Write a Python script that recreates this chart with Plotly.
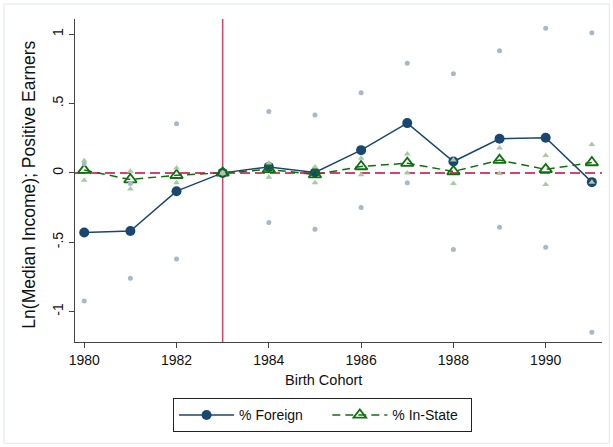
import plotly.graph_objects as go

years = [1980, 1981, 1982, 1983, 1984, 1985, 1986, 1987, 1988, 1989, 1990, 1991]
foreign = [-0.430, -0.419, -0.132, 0.0, 0.043, 0.003, 0.164, 0.359, 0.082, 0.246, 0.253, -0.067]
foreign_hi = [0.065, -0.077, 0.354, 0.0, 0.443, 0.417, 0.578, 0.790, 0.715, 0.881, 1.043, 1.011]
foreign_lo = [-0.924, -0.760, -0.621, 0.0, -0.358, -0.406, -0.250, -0.072, -0.553, -0.392, -0.536, -1.150]
instate = [0.020, -0.048, -0.017, 0.0, 0.025, -0.012, 0.046, 0.070, 0.010, 0.092, 0.025, 0.075]
instate_hi = [0.087, 0.012, 0.036, 0.0, 0.072, 0.043, 0.106, 0.137, 0.092, 0.180, 0.126, 0.205]
instate_lo = [-0.053, -0.116, -0.072, 0.0, -0.031, -0.072, -0.014, 0.0, -0.077, -0.005, -0.084, -0.067]

xticks = [1980, 1982, 1984, 1986, 1988, 1990]
yticks = [-1, -0.5, 0, 0.5, 1]
yticklabels = ["-1", "-.5", "0", ".5", "1"]
ref_year = 1983

NAVY = "#1a476f"
GREY = "#a9b7cb"
DKGREEN = "#0f700f"
LTGREEN = "#a9c9a4"
RED = "#d4436b"
AX = "#444444"
FONT = "Liberation Sans, Arial, sans-serif"

# plot area in pixels
W, H = 613, 447
L, R, T, B = 75, 601.7, 19, 341.7
pw, ph = R - L, B - T


def px(x):
    return (x - L) / pw


def py(y):
    return (B - y) / ph


fig = go.Figure()

fig.add_trace(go.Scatter(
    x=years, y=foreign, name="% Foreign" + "&nbsp;" * 5, mode="lines+markers",
    line=dict(color=NAVY, width=1.5),
    marker=dict(symbol="circle", size=10, color=NAVY),
))
fig.add_trace(go.Scatter(
    x=years, y=instate, name="% In-State" + "&nbsp;" * 2, mode="lines+markers",
    line=dict(color=DKGREEN, width=1.5, dash="8px,5px"),
    marker=dict(symbol="triangle-up-open", size=11, color=DKGREEN, line=dict(width=1.8)),
))
fig.add_trace(go.Scatter(
    x=years + years, y=foreign_hi + foreign_lo, mode="markers", showlegend=False,
    marker=dict(symbol="circle", size=5, color=GREY), hoverinfo="skip",
))
fig.add_trace(go.Scatter(
    x=years + years, y=instate_hi + instate_lo, mode="markers", showlegend=False,
    marker=dict(symbol="triangle-up", size=6, color=LTGREEN), hoverinfo="skip",
))

shapes = [
    dict(type="line", xref="paper", yref="y", x0=0, x1=1, y0=0, y1=0,
         line=dict(color=RED, width=2, dash="10px,5px"), layer="below"),
    dict(type="line", xref="x", yref="paper", x0=ref_year, x1=ref_year, y0=0, y1=1,
         line=dict(color=RED, width=1.5), layer="below"),
    dict(type="rect", xref="paper", yref="paper", x0=px(4), x1=px(609), y0=py(443), y1=py(4),
         line=dict(color="#dfe7eb", width=1), layer="below"),
]

annotations = [
    dict(text="Birth Cohort", xref="paper", yref="paper", x=px(323), y=py(380),
         xanchor="center", yanchor="middle", showarrow=False,
         font=dict(size=14.5, color="#111111", family=FONT)),
    dict(text="Ln(Median Income); Positive Earners", xref="paper", yref="paper",
         x=px(29.5), y=py(184), xanchor="center", yanchor="middle", textangle=-90,
         showarrow=False, font=dict(size=17.5, color="#111111", family=FONT)),
]

fig.update_layout(
    width=W, height=H,
    margin=dict(l=L, r=W - R, t=T, b=H - B, pad=0),
    paper_bgcolor="white", plot_bgcolor="white",
    font=dict(family=FONT, size=14, color="#111111"),
    shapes=shapes, annotations=annotations,
    showlegend=True,
    legend=dict(
        orientation="h", x=px(173), xanchor="left", y=py(398), yanchor="top",
        bordercolor="#222222", borderwidth=1, bgcolor="white",
        font=dict(size=14, family=FONT, color="#111111"), itemwidth=55,
        traceorder="normal",
    ),
    xaxis=dict(
        range=[1979.8, 1991.22], tickvals=xticks, ticks="outside", ticklen=5,
        tickcolor=AX, showline=True, linecolor=AX, linewidth=1.2, showgrid=False,
        zeroline=False, tickfont=dict(size=14), mirror=False, automargin=False,
    ),
    yaxis=dict(
        range=[-1.22, 1.11], tickvals=yticks, ticktext=yticklabels, ticks="outside",
        ticklen=5, tickcolor=AX, showline=True, linecolor=AX, linewidth=1.2,
        showgrid=False, zeroline=False, tickangle=-90, tickfont=dict(size=14),
        automargin=False,
    ),
)

fig.write_html(
    "out.html",
    config={"displayModeBar": False},
    post_script="document.body.style.margin='0';document.body.style.padding='0';",
)
